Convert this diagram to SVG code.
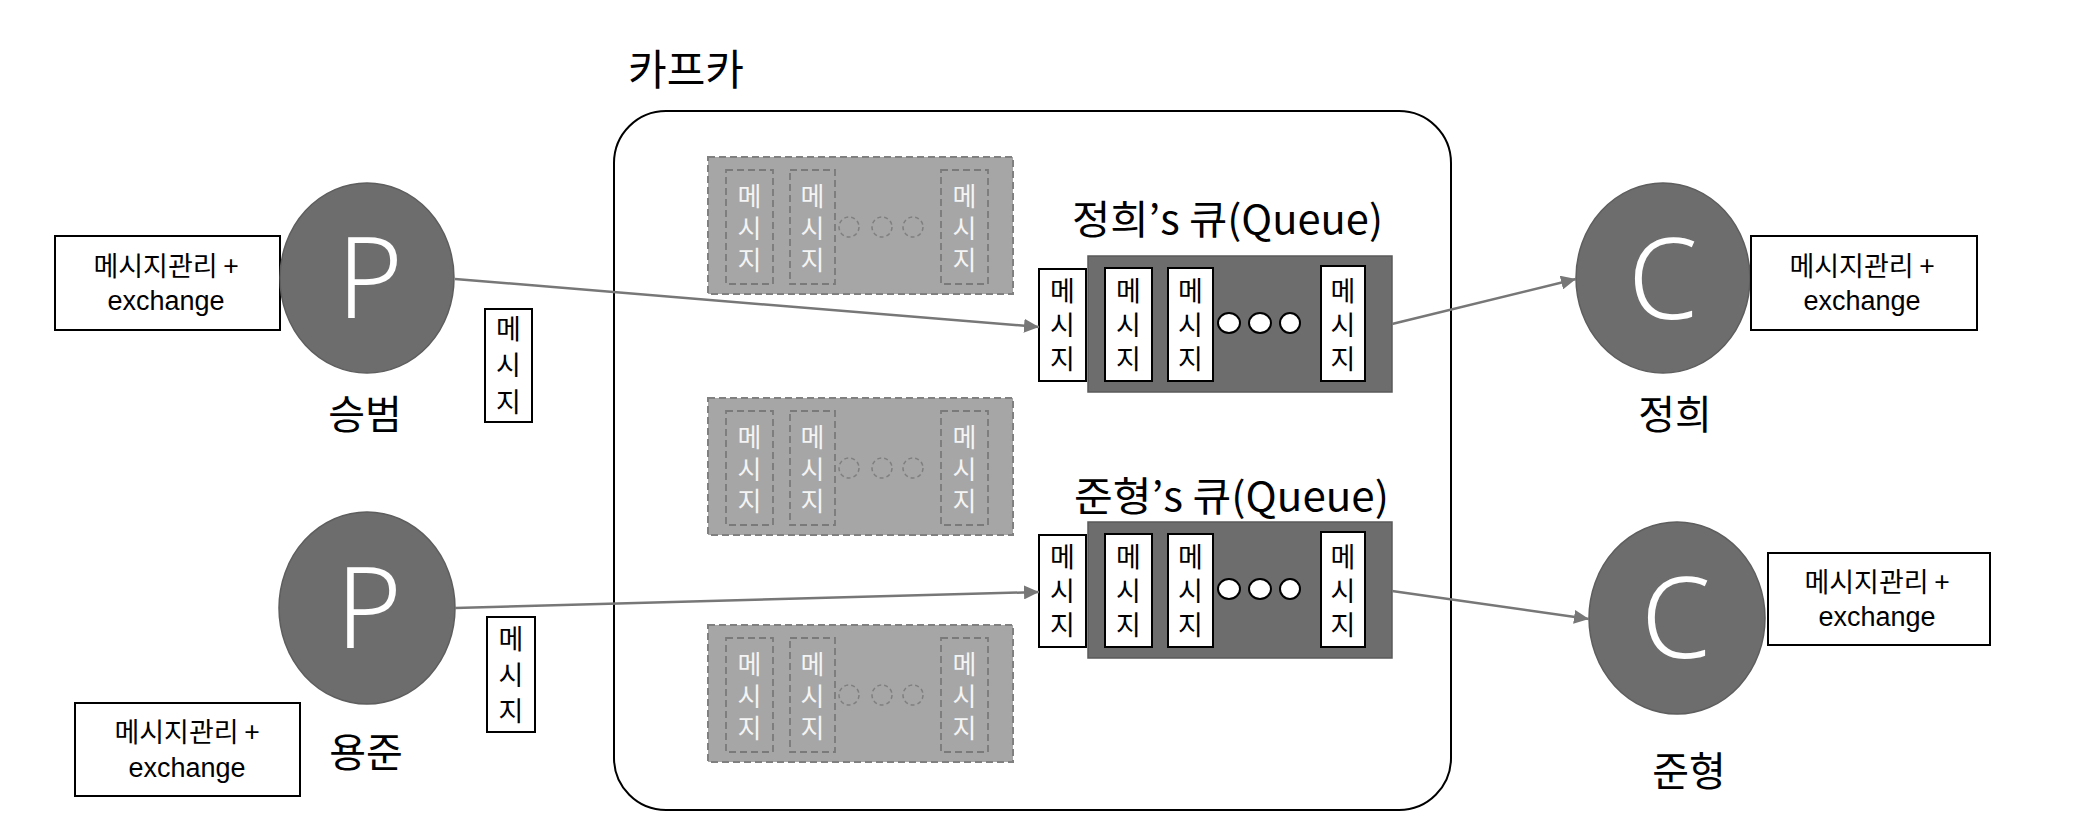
<svg xmlns="http://www.w3.org/2000/svg" width="2080" height="840" viewBox="0 0 2080 840">
<defs>
<style>
text{font-family:"Noto Sans CJK KR","Noto Sans",sans-serif;}
.lbl{font-size:40px;fill:#000;text-anchor:middle;}
.ex{font-size:27px;fill:#000;text-anchor:middle;}
.exl{font-family:"Liberation Sans",Arial,sans-serif;font-size:27px;fill:#000;text-anchor:middle;}
.big{font-family:"Noto Sans","Open Sans",sans-serif;font-weight:300;font-size:112px;fill:#fff;text-anchor:middle;}
.nd{fill:#6d6d6d;stroke:#5e5e5e;stroke-width:1.5;}
.box{fill:#fff;stroke:#000;stroke-width:2;}
.msg{font-size:27px;fill:#000;text-anchor:middle;}
.gmsg{font-size:26px;fill:#f4f4f4;text-anchor:middle;}
.gbox{fill:#a6a6a6;stroke:#808080;stroke-width:2;stroke-dasharray:7 4;}
.gin{fill:none;stroke:#7a7a7a;stroke-width:1.8;stroke-dasharray:7 4;}
.gdot{fill:none;stroke:#7f7f7f;stroke-width:1.5;stroke-dasharray:4 3;}
.q{fill:#6d6d6d;stroke:#5a5a5a;stroke-width:1.5;}
.dot{fill:#fff;stroke:#000;stroke-width:2;}
.conn{stroke:#777;stroke-width:2.5;fill:none;marker-end:url(#arr);}
</style>
<marker id="arr" markerUnits="userSpaceOnUse" markerWidth="16" markerHeight="14" refX="15" refY="7" orient="auto">
<path d="M0,0 L15,7 L0,14 z" fill="#777"/>
</marker>
<g id="gtmpl">
<rect class="gbox" x="0" y="0" width="305" height="137"/>
<rect class="gin" x="18" y="13" width="47" height="114"/>
<rect class="gin" x="82" y="13" width="45" height="114"/>
<rect class="gin" x="233" y="13" width="47" height="114"/>
<circle class="gdot" cx="141" cy="70" r="10"/>
<circle class="gdot" cx="174" cy="70" r="10"/>
<circle class="gdot" cx="205" cy="70" r="10"/>
<text class="gmsg" x="41.5" y="49">메</text><text class="gmsg" x="41.5" y="81">시</text><text class="gmsg" x="41.5" y="113">지</text>
<text class="gmsg" x="104.5" y="49">메</text><text class="gmsg" x="104.5" y="81">시</text><text class="gmsg" x="104.5" y="113">지</text>
<text class="gmsg" x="256.5" y="49">메</text><text class="gmsg" x="256.5" y="81">시</text><text class="gmsg" x="256.5" y="113">지</text>
</g>
<g id="qtmpl">
<rect class="q" x="1088" y="256" width="304" height="136"/>
<rect class="box" x="1039" y="269" width="47" height="112"/>
<rect class="box" x="1105" y="268" width="47" height="113"/>
<rect class="box" x="1168" y="268" width="45" height="113"/>
<rect class="box" x="1321" y="266" width="44" height="115"/>
<ellipse class="dot" cx="1229" cy="323" rx="11" ry="10"/>
<ellipse class="dot" cx="1260" cy="323" rx="11" ry="10"/>
<ellipse class="dot" cx="1290" cy="323" rx="10" ry="10"/>
<text class="msg" x="1062.5" y="301">메</text><text class="msg" x="1062.5" y="335">시</text><text class="msg" x="1062.5" y="369">지</text>
<text class="msg" x="1128.5" y="301">메</text><text class="msg" x="1128.5" y="335">시</text><text class="msg" x="1128.5" y="369">지</text>
<text class="msg" x="1190.5" y="301">메</text><text class="msg" x="1190.5" y="335">시</text><text class="msg" x="1190.5" y="369">지</text>
<text class="msg" x="1343" y="301">메</text><text class="msg" x="1343" y="335">시</text><text class="msg" x="1343" y="369">지</text>
</g>
</defs>
<rect width="2080" height="840" fill="#fff"/>

<g id="kafka">
<text class="lbl" x="686" y="85" style="font-size:42px">카프카</text>
<rect x="614" y="111" width="837" height="699" rx="52" ry="52" fill="none" stroke="#000" stroke-width="2"/>
</g>

<g id="inactive1"><use href="#gtmpl" x="708" y="157"/></g>
<g id="inactive2"><use href="#gtmpl" x="708" y="398"/></g>
<g id="inactive3"><use href="#gtmpl" x="708" y="625"/></g>

<g id="queue1">
<text class="lbl" x="1072" y="234" style="text-anchor:start" textLength="311" lengthAdjust="spacingAndGlyphs">정희’s 큐(Queue)</text>
<use href="#qtmpl"/>
</g>
<g id="queue2">
<text class="lbl" x="1074" y="511" style="text-anchor:start" textLength="315" lengthAdjust="spacingAndGlyphs">준형’s 큐(Queue)</text>
<use href="#qtmpl" y="266"/>
</g>

<g id="producer1">
<rect class="box" x="55" y="236" width="225" height="94"/>
<text class="ex" x="166" y="276">메시지관리 +</text>
<text class="exl" x="166" y="310">exchange</text>
<ellipse class="nd" cx="367" cy="278" rx="87" ry="95"/>
<text class="big" x="370" y="318">P</text>
<text class="lbl" x="365" y="429">승범</text>
</g>
<g id="msg1">
<rect class="box" x="485" y="309" width="47" height="113"/>
<text class="msg" x="508.5" y="339">메</text><text class="msg" x="508.5" y="375">시</text><text class="msg" x="508.5" y="412">지</text>
</g>

<g id="producer2">
<rect class="box" x="75" y="703" width="225" height="93"/>
<text class="ex" x="187" y="742">메시지관리 +</text>
<text class="exl" x="187" y="777">exchange</text>
<ellipse class="nd" cx="367" cy="608" rx="88" ry="96"/>
<text class="big" x="369" y="648">P</text>
<text class="lbl" x="366" y="767">용준</text>
</g>
<g id="msg2">
<rect class="box" x="487" y="617" width="48" height="115"/>
<text class="msg" x="511" y="649">메</text><text class="msg" x="511" y="685">시</text><text class="msg" x="511" y="721">지</text>
</g>

<g id="consumer1">
<ellipse class="nd" cx="1663" cy="278" rx="87" ry="95"/>
<text class="big" x="1663" y="319">C</text>
<text class="lbl" x="1675" y="429">정희</text>
<rect class="box" x="1751" y="236" width="226" height="94"/>
<text class="ex" x="1862" y="276">메시지관리 +</text>
<text class="exl" x="1862" y="310">exchange</text>
</g>
<g id="consumer2">
<ellipse class="nd" cx="1677" cy="618" rx="88" ry="96"/>
<text class="big" x="1676" y="658">C</text>
<text class="lbl" x="1689" y="786">준형</text>
<rect class="box" x="1768" y="553" width="222" height="92"/>
<text class="ex" x="1877" y="592">메시지관리 +</text>
<text class="exl" x="1877" y="626">exchange</text>
</g>

<g id="connectors">
<line class="conn" x1="455" y1="279" x2="1039" y2="327"/>
<line class="conn" x1="455" y1="608" x2="1039" y2="592"/>
<line class="conn" x1="1392" y1="324" x2="1576" y2="279"/>
<line class="conn" x1="1392" y1="591" x2="1589" y2="619"/>
</g>
</svg>
